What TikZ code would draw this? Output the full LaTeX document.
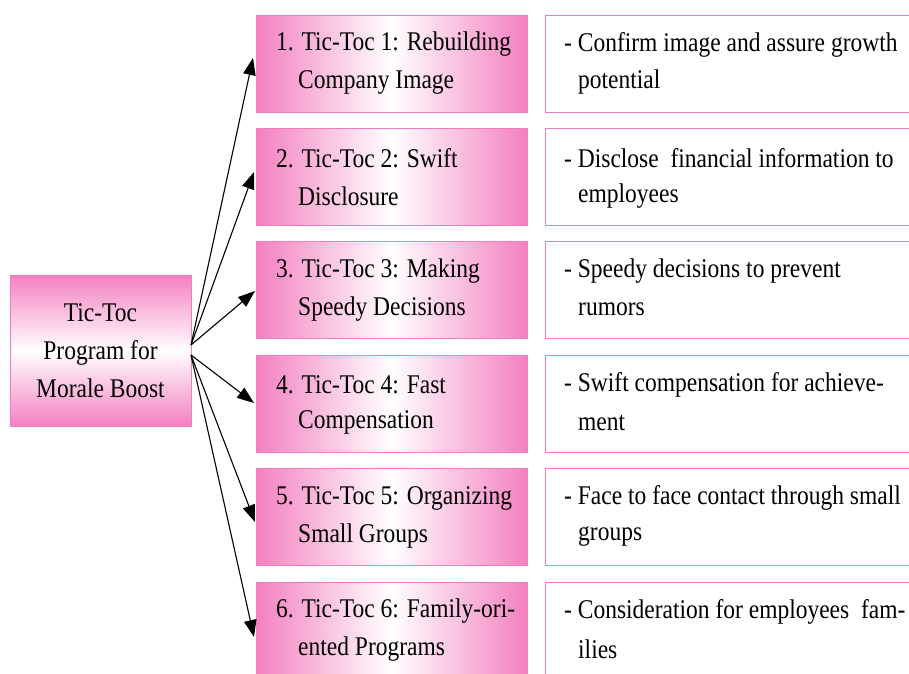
\documentclass[tikz,border=0pt]{standalone}
\usepackage{fontspec}
\setmainfont[FakeStretch=0.87]{Liberation Serif}
\usetikzlibrary{arrows.meta}
\definecolor{pinkc}{RGB}{244,128,192}
\definecolor{pinkb}{RGB}{242,125,190}
\tikzset{
  midbox/.style={draw=pinkb, line width=0.8pt, left color=pinkc, right color=pinkc, middle color=white},
  leftbox/.style={draw=pinkb, line width=0.8pt, top color=pinkc, bottom color=pinkc, middle color=white},
  rightbox/.style={draw=pinkb, line width=1pt, fill=white},
  txt/.style={anchor=west, align=left, inner sep=0pt, font=\fontsize{27}{38}\selectfont},
  arr/.style={line width=1.1pt, -{Triangle[length=17pt,width=12.5pt]}}
}
\begin{document}
\begin{tikzpicture}[x=1pt,y=-1pt]
\useasboundingbox (0,0) rectangle (909,673);
\clip (0,0) rectangle (909,673);
\fill[white] (0,0) rectangle (909,673);
% left box
\draw[leftbox] (10,275) rectangle (191,426);
\node[txt, anchor=center, align=center] (lt) at (100.5,350.5) {Tic-Toc\\Program for\\Morale Boost};
% middle and right boxes
\foreach \i/\a/\b/\c/\d [count=\k from 0] in {
 1/{1. Tic-Toc 1: Rebuilding}/{Company Image}/{- Confirm image and assure growth}/{potential},
 2/{2. Tic-Toc 2: Swift}/{Disclosure}/{- Disclose\ \ financial information to}/{employees},
 3/{3. Tic-Toc 3: Making}/{Speedy Decisions}/{- Speedy decisions to prevent}/{rumors},
 4/{4. Tic-Toc 4: Fast}/{Compensation}/{- Swift compensation for achieve-}/{ment},
 5/{5. Tic-Toc 5: Organizing}/{Small Groups}/{- Face to face contact through small}/{groups},
 6/{6. Tic-Toc 6: Family-ori-}/{ented Programs}/{- Consideration for employees\ \ fam-}/{ilies}} {
  \pgfmathsetmacro{\top}{15+113.4*\k}
  \draw[midbox] (256,\top) rectangle (527,\top+97);
  \draw[rightbox] (545,\top) rectangle (960,\top+97);
  \node[txt] (ma\i) at (276,\top+29.5) {\a};
  \node[txt] (mb\i) at (298,\top+67.5) {\b};
  \node[txt] (ra\i) at (564,\top+29.5) {\c};
  \node[txt] (rb\i) at (578,\top+67.5) {\d};
}
% arrows
\coordinate (su) at (191,345);
\coordinate (sd) at (191,355);
\coordinate (t1) at (253,58);
\coordinate (t2) at (254,172);
\coordinate (t3) at (255,291);
\coordinate (t4) at (254,403);
\coordinate (t5) at (255,522);
\coordinate (t6) at (254,637);
\draw[arr] (su) -- (t1);
\draw[arr] (su) -- (t2);
\draw[arr] (su) -- (t3);
\draw[arr] (sd) -- (t4);
\draw[arr] (sd) -- (t5);
\draw[arr] (sd) -- (t6);
\end{tikzpicture}
\end{document}
